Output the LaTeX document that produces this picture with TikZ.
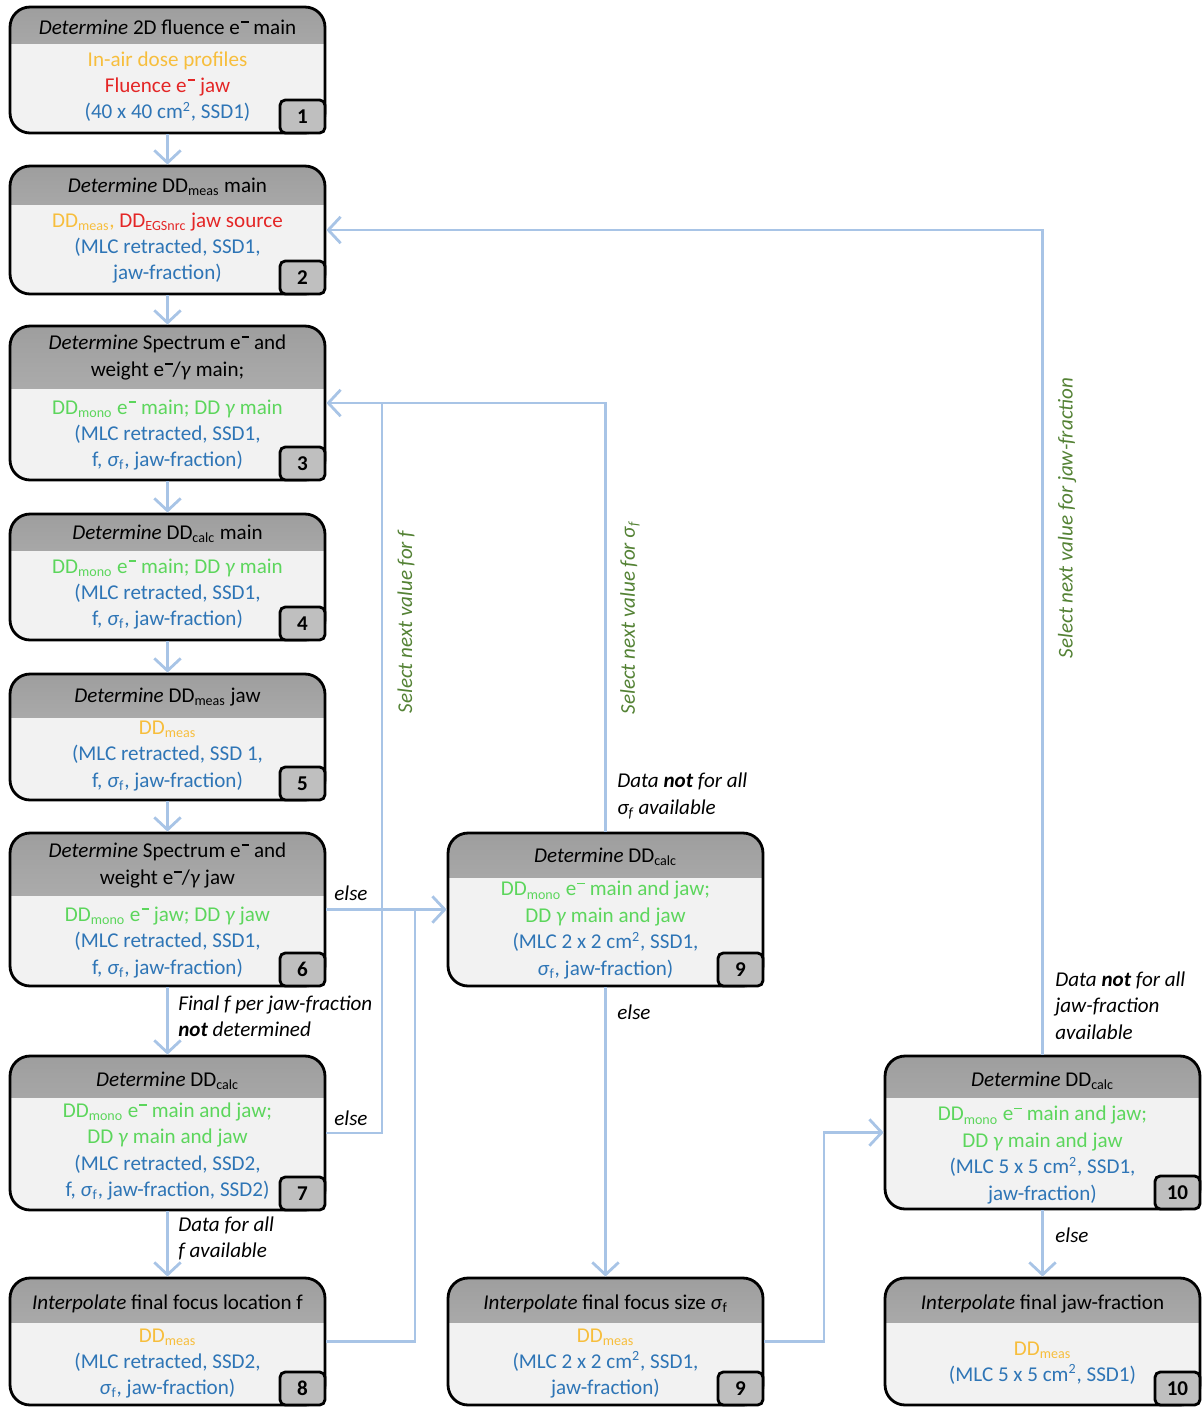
\documentclass[tikz,border=0pt]{standalone}
\usepackage{fontspec}
\setmainfont{Carlito}
\usetikzlibrary{
   arrows.meta,
   calc,
   positioning
}

\definecolor{hdtop}{RGB}{158,158,158}
\definecolor{hdbot}{RGB}{190,190,190}
\definecolor{bodygray}{RGB}{242,242,242}
\definecolor{badgegray}{RGB}{191,191,191}
\definecolor{ylw}{RGB}{247,190,60}
\definecolor{rd}{RGB}{228,38,38}
\definecolor{blu}{RGB}{46,117,182}
\definecolor{grn}{RGB}{92,214,92}
\definecolor{dgrn}{RGB}{84,130,53}
\definecolor{lnblue}{RGB}{168,196,230}

\newcommand{\Det}{\textit{Determine}}
\newcommand{\Itp}{\textit{Interpolate}}
\newcommand{\eminus}{e\kern0.05em\raisebox{0.55em}{\rule{0.36em}{0.09em}}}
\newcommand{\sigf}{\textit{σ}\textsubscript{f}}
\newcommand{\DDs}[1]{DD\textsubscript{#1}}

\begin{document}
\begin{tikzpicture}[
    x=0.02cm, y=-0.02cm,
    every node/.style={font=\fontsize{12}{15}\selectfont},
    box/.style={draw=black, line width=1.6pt, rounded corners=0.4cm, fill=bodygray,
        minimum width=6.3cm, inner sep=0pt,
        path picture={\shade[sharp corners, top color=hdtop, bottom color=hdbot]
            (path picture bounding box.north west) rectangle
            ([yshift=-#1]path picture bounding box.north east);}},
    badge/.style={draw=black, line width=1.6pt, rounded corners=3pt, fill=badgegray,
        minimum width=0.9cm, minimum height=0.66cm, anchor=south east,
        font=\bfseries\fontsize{12}{15}\selectfont},
    txt/.style={align=center, inner sep=0pt},
    lbl/.style={align=left, anchor=west, inner sep=0pt, font=\itshape\fontsize{12}{15}\selectfont},
    sel/.style={rotate=90, inner sep=0pt, text=dgrn, font=\itshape\fontsize{12}{15}\selectfont},
    link/.style={draw=lnblue, line width=1.6pt},
    arr/.style={link, -{Straight Barb[length=7pt,width=15pt]}}
]
\useasboundingbox (0,0) rectangle (1201,1407);

% left column
\node[box=0.72cm, minimum height=2.52cm] (b1) at (167.5,70) {};
\node[badge] (n1) at (b1.south east) {1};
\node[txt] (h1) at (167.5,27) {\Det{} 2D fluence \eminus{} main};
\node[txt] (t1) at (167.5,86.5) {\textcolor{ylw}{In-air dose profiles}\\
    \textcolor{rd}{Fluence \eminus{} jaw}\\
    \textcolor{blu}{(40 x 40 cm\textsuperscript{2}, SSD1)}};

\node[box=0.76cm, minimum height=2.56cm] (b2) at (167.5,230) {};
\node[badge] (n2) at (b2.south east) {2};
\node[txt] (h2) at (167.5,187) {\Det{} \DDs{meas} main};
\node[txt] (t2) at (167.5,248) {\textcolor{ylw}{\DDs{meas},} \textcolor{rd}{\DDs{EGSnrc} jaw source}\\
    \textcolor{blu}{(MLC retracted, SSD1,}\\
    \textcolor{blu}{jaw-fraction)}};

\node[box=1.24cm, minimum height=3.08cm] (b3) at (167.5,403) {};
\node[badge] (n3) at (b3.south east) {3};
\node[txt] (h3) at (167.5,357.5) {\Det{} Spectrum \eminus{} and\\ weight \eminus{}/\textit{γ} main;};
\node[txt] (t3) at (167.5,435) {\textcolor{grn}{\DDs{mono} \eminus{} main; DD \textit{γ} main}\\
    \textcolor{blu}{(MLC retracted, SSD1,}\\
    \textcolor{blu}{f, \sigf, jaw-fraction)}};

\node[box=0.72cm, minimum height=2.52cm] (b4) at (167.5,577) {};
\node[badge] (n4) at (b4.south east) {4};
\node[txt] (h4) at (167.5,534) {\Det{} \DDs{calc} main};
\node[txt] (t4) at (167.5,594) {\textcolor{grn}{\DDs{mono} \eminus{} main; DD \textit{γ} main}\\
    \textcolor{blu}{(MLC retracted, SSD1,}\\
    \textcolor{blu}{f, \sigf, jaw-fraction)}};

\node[box=0.86cm, minimum height=2.52cm] (b5) at (167.5,737) {};
\node[badge] (n5) at (b5.south east) {5};
\node[txt] (h5) at (167.5,697) {\Det{} \DDs{meas} jaw};
\node[txt] (t5) at (167.5,756) {\textcolor{ylw}{\DDs{meas}}\\
    \textcolor{blu}{(MLC retracted, SSD 1,}\\
    \textcolor{blu}{f, \sigf, jaw-fraction)}};

\node[box=1.24cm, minimum height=3.06cm] (b6) at (167.5,909.5) {};
\node[badge] (n6) at (b6.south east) {6};
\node[txt] (h6) at (167.5,865.5) {\Det{} Spectrum \eminus{} and\\ weight \eminus{}/\textit{γ} jaw};
\node[txt] (t6) at (167.5,942.5) {\textcolor{grn}{\DDs{mono} \eminus{} jaw; DD \textit{γ} jaw}\\
    \textcolor{blu}{(MLC retracted, SSD1,}\\
    \textcolor{blu}{f, \sigf, jaw-fraction)}};

\node[box=0.82cm, minimum height=3.08cm] (b7) at (167.5,1133) {};
\node[badge] (n7) at (b7.south east) {7};
\node[txt] (h7) at (167.5,1081) {\Det{} \DDs{calc}};
\node[txt] (t7) at (167.5,1151.5) {\textcolor{grn}{\DDs{mono} \eminus{} main and jaw;}\\
    \textcolor{grn}{DD \textit{γ} main and jaw}\\
    \textcolor{blu}{(MLC retracted, SSD2,}\\
    \textcolor{blu}{f, \sigf, jaw-fraction, SSD2)}};

\node[box=0.88cm, minimum height=2.54cm] (b8) at (167.5,1341.5) {};
\node[badge] (n8) at (b8.south east) {8};
\node[txt] (h8) at (167.5,1304) {\Itp{} final focus location f};
\node[txt] (t8) at (167.5,1363.5) {\textcolor{ylw}{\DDs{meas}}\\
    \textcolor{blu}{(MLC retracted, SSD2,}\\
    \textcolor{blu}{\sigf, jaw-fraction)}};

% middle column
\node[box=0.88cm, minimum height=3.06cm] (b9) at (605.5,909.5) {};
\node[badge] (n9) at (b9.south east) {9};
\node[txt] (h9) at (605.5,857) {\Det{} \DDs{calc}};
\node[txt] (t9) at (605.5,930) {\textcolor{grn}{\DDs{mono} \eminus{} main and jaw;}\\
    \textcolor{grn}{DD \textit{γ} main and jaw}\\
    \textcolor{blu}{(MLC 2 x 2 cm\textsuperscript{2}, SSD1,}\\
    \textcolor{blu}{\sigf, jaw-fraction)}};

\node[box=0.88cm, minimum height=2.54cm] (b9i) at (605.5,1341.5) {};
\node[badge] (n9i) at (b9i.south east) {9};
\node[txt] (h9i) at (605.5,1304) {\Itp{} final focus size \sigf};
\node[txt] (t9i) at (605.5,1363.5) {\textcolor{ylw}{\DDs{meas}}\\
    \textcolor{blu}{(MLC 2 x 2 cm\textsuperscript{2}, SSD1,}\\
    \textcolor{blu}{jaw-fraction)}};

% right column
\node[box=0.82cm, minimum height=3.06cm] (b10) at (1042.5,1132.5) {};
\node[badge] (n10) at (b10.south east) {10};
\node[txt] (h10) at (1042.5,1081) {\Det{} \DDs{calc}};
\node[txt] (t10) at (1042.5,1155) {\textcolor{grn}{\DDs{mono} \eminus{} main and jaw;}\\
    \textcolor{grn}{DD \textit{γ} main and jaw}\\
    \textcolor{blu}{(MLC 5 x 5 cm\textsuperscript{2}, SSD1,}\\
    \textcolor{blu}{jaw-fraction)}};

\node[box=0.88cm, minimum height=2.54cm] (b10i) at (1042.5,1341.5) {};
\node[badge] (n10i) at (b10i.south east) {10};
\node[txt] (h10i) at (1042.5,1304) {\Itp{} final jaw-fraction};
\node[txt] (t10i) at (1042.5,1363) {\textcolor{ylw}{\DDs{meas}}\\
    \textcolor{blu}{(MLC 5 x 5 cm\textsuperscript{2}, SSD1)}};

% junctions
\coordinate (jf) at (382,403);
\coordinate (js) at (415,909.5);
\coordinate (jm) at (824,1132.5);

% main chain
\draw[arr] (b1) -- (b2);
\draw[arr] (b2) -- (b3);
\draw[arr] (b3) -- (b4);
\draw[arr] (b4) -- (b5);
\draw[arr] (b5) -- (b6);
\draw[arr] (b6) -- (b7);
\draw[arr] (b7) -- (b8);
\draw[arr] (b9) -- (b9i);
\draw[arr] (b10) -- (b10i);

% loops
\draw[arr] (b6.east) -- (b9.west);
\draw[link] (b8.east) -| (js);
\draw[arr] (b7.east) -| (jf) -- (b3.east);
\draw[link] (b9.north) |- (jf);
\draw[arr] (b9i.east) -| (jm) -- (b10.west);
\draw[arr] (b10.north) |- (b2.east);

% labels
\node[lbl] (l6) at (178,1016) {Final f per jaw-fraction\\ \textbf{not} determined};
\node[lbl] (l7) at (178,1238.5) {Data for all\\ f available};
\node[lbl] (l9) at (617,796) {Data \textbf{not} for all\\ \textit{σ}\textsubscript{f} available};
\node[lbl] (l10) at (1055,1005.5) {Data \textbf{not} for all\\ jaw-fraction\\ available};
\node[lbl] (e6) at (334,893) {else};
\node[lbl] (e7) at (334,1118) {else};
\node[lbl] (e9) at (617,1012) {else};
\node[lbl] (e10) at (1055,1235) {else};
\node[sel] (s1) at (406,622) {Select next value for f};
\node[sel] (s2) at (630,618) {Select next value for \textit{σ}\textsubscript{f}};
\node[sel] (s3) at (1067,518) {Select next value for jaw-fraction};

\end{tikzpicture}
\end{document}
